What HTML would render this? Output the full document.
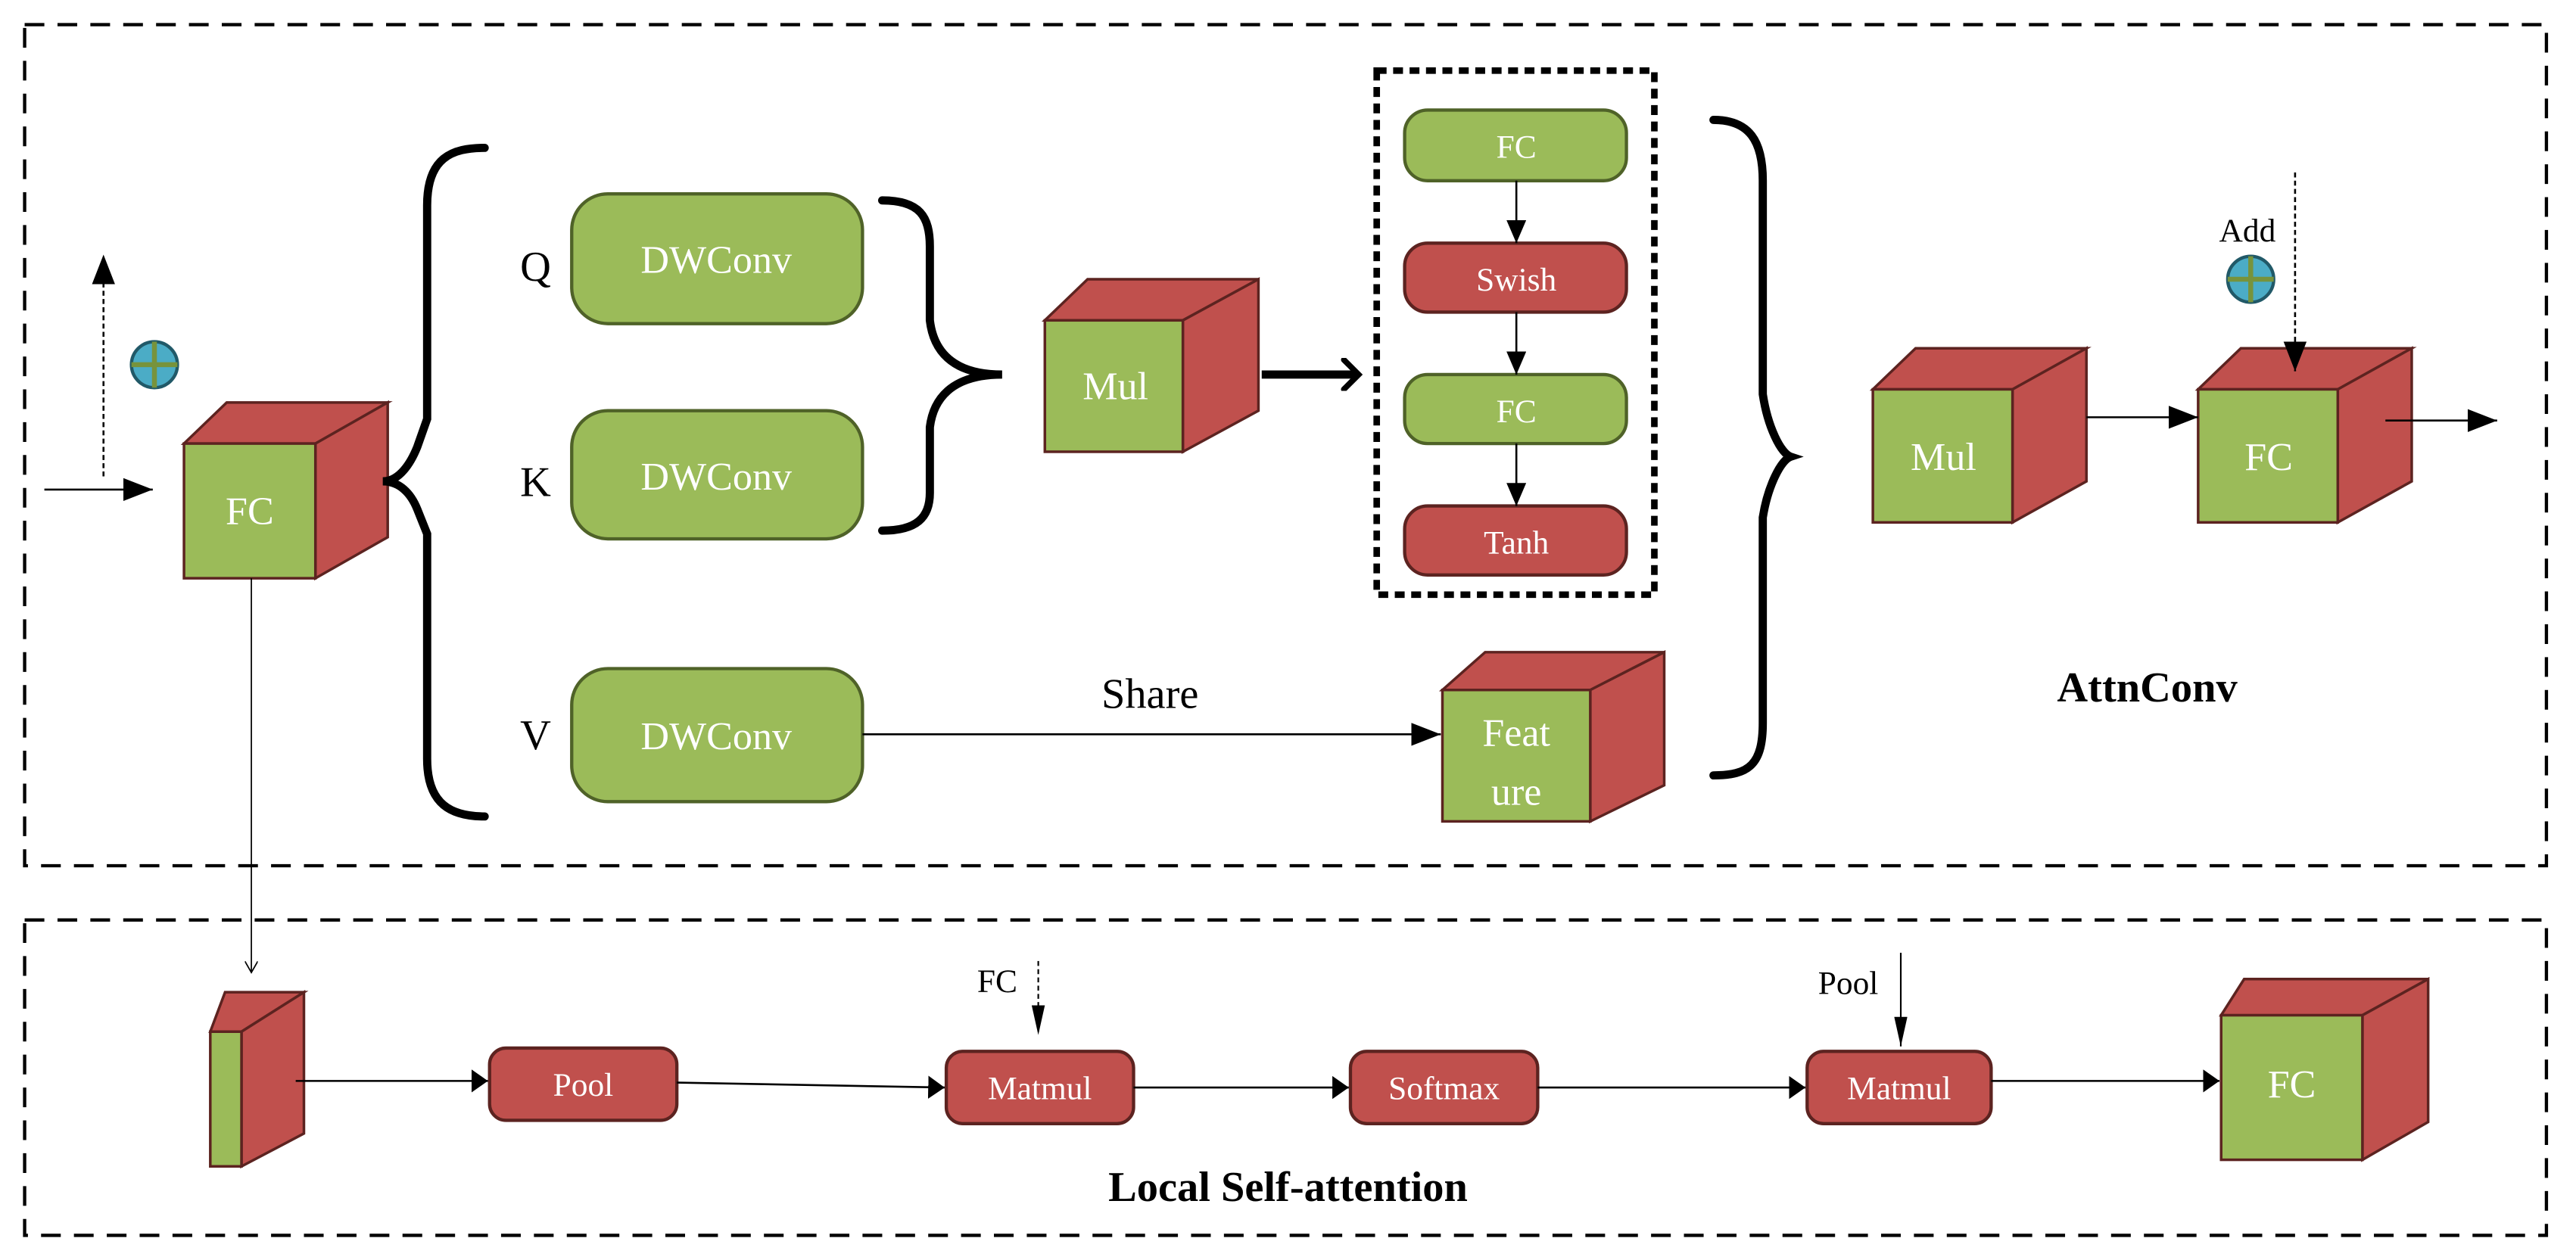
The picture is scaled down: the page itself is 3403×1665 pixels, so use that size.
<!DOCTYPE html>
<html><head><meta charset="utf-8"><style>
html,body{margin:0;padding:0;background:#fff;}
svg{display:block;}
text{font-family:"Liberation Serif",serif;}
</style></head><body>
<svg width="3403" height="1665" viewBox="0 0 1568 767" preserveAspectRatio="none" xmlns="http://www.w3.org/2000/svg">
<defs>
<marker id="ah" markerWidth="18" markerHeight="14" refX="18" refY="7" orient="auto" markerUnits="userSpaceOnUse"><path d="M0,0 L18,7 L0,14 Z" fill="#000"/></marker>
<marker id="am" markerWidth="14" markerHeight="12" refX="14" refY="6" orient="auto" markerUnits="userSpaceOnUse"><path d="M0,0 L14,6 L0,12 Z" fill="#000"/></marker>
<marker id="ahs" markerWidth="10" markerHeight="14" refX="10" refY="7" orient="auto" markerUnits="userSpaceOnUse"><path d="M0,0 L10,7 L0,14 Z" fill="#000"/></marker>
<marker id="av" markerWidth="18" markerHeight="8" refX="18" refY="4" orient="auto" markerUnits="userSpaceOnUse"><path d="M0,0 L18,4 L0,8 Z" fill="#000"/></marker>
<marker id="open" markerWidth="8" markerHeight="8" refX="7" refY="4" orient="auto" markerUnits="userSpaceOnUse"><path d="M0,0 L7,4 L0,8" fill="none" stroke="#000" stroke-width="0.8"/></marker>
<marker id="thick" markerWidth="14" markerHeight="20" refX="10" refY="10" orient="auto" markerUnits="userSpaceOnUse"><path d="M2,1 L11,10 L2,19" fill="none" stroke="#000" stroke-width="3.5" stroke-linecap="round"/></marker>
</defs>
<rect x="15" y="15" width="1535" height="512" fill="none" stroke="#000" stroke-width="2" stroke-dasharray="12,8"/>
<rect x="15" y="560" width="1535" height="192" fill="none" stroke="#000" stroke-width="2" stroke-dasharray="12,8"/>

<g stroke="#5c2320" stroke-width="1.6">
<polygon points="112,270 138,245 236,245 192,270" fill="#c0504d"/>
<polygon points="192,270 236,245 236,327 192,352" fill="#c0504d"/>
<rect x="112" y="270" width="80" height="82" fill="#9bbb59"/>
<polygon points="636,195 662,170 766,170 720,195" fill="#c0504d"/>
<polygon points="720,195 766,170 766,250 720,275" fill="#c0504d"/>
<rect x="636" y="195" width="84" height="80" fill="#9bbb59"/>
<polygon points="1140,237 1166,212 1270,212 1225,237" fill="#c0504d"/>
<polygon points="1225,237 1270,212 1270,293 1225,318" fill="#c0504d"/>
<rect x="1140" y="237" width="85" height="81" fill="#9bbb59"/>
<polygon points="1338,237 1364,212 1468,212 1423,237" fill="#c0504d"/>
<polygon points="1423,237 1468,212 1468,293 1423,318" fill="#c0504d"/>
<rect x="1338" y="237" width="85" height="81" fill="#9bbb59"/>
<polygon points="878,420 904,397 1013,397 968,420" fill="#c0504d"/>
<polygon points="968,420 1013,397 1013,478 968,500" fill="#c0504d"/>
<rect x="878" y="420" width="90" height="80" fill="#9bbb59"/>
<polygon points="128,628 137,604 185,604 147,628" fill="#c0504d"/>
<polygon points="147,628 185,604 185,690 147,710" fill="#c0504d"/>
<rect x="128" y="628" width="19" height="82" fill="#9bbb59"/>
<polygon points="1352,618 1366,596 1478,596 1438,618" fill="#c0504d"/>
<polygon points="1438,618 1478,596 1478,683 1438,706" fill="#c0504d"/>
<rect x="1352" y="618" width="86" height="88" fill="#9bbb59"/>
</g>

<g fill="#9bbb59" stroke="#4f6228" stroke-width="2">
<rect x="348" y="118" width="177" height="79" rx="22"/>
<rect x="348" y="250" width="177" height="78" rx="22"/>
<rect x="348" y="407" width="177" height="81" rx="22"/>
<rect x="855" y="67" width="135" height="43" rx="14"/>
<rect x="855" y="228" width="135" height="42" rx="14"/>
</g>
<g fill="#c0504d" stroke="#5c2320" stroke-width="2">
<rect x="855" y="148" width="135" height="42" rx="14"/>
<rect x="855" y="308" width="135" height="42" rx="14"/>
<rect x="298" y="638" width="114" height="44" rx="10"/>
<rect x="576" y="640" width="114" height="44" rx="10"/>
<rect x="822" y="640" width="114" height="44" rx="10"/>
<rect x="1100" y="640" width="112" height="44" rx="10"/>
</g>
<rect x="838" y="43" width="169" height="319" fill="none" stroke="#000" stroke-width="4" stroke-dasharray="6,4"/>

<g fill="none" stroke="#000" stroke-width="5" stroke-linecap="round">
<path d="M295,90 C275,90 260,96 260,125 L260,255 L254,272 C250,282 243,293 233,293 C243,293 250,300 254,310 L260,325 L260,462 C260,490 275,497 295,497"/>
<path d="M537,122 C560,122 566,132 566,150 L566,195 C568,212 578,228 610,228 C578,228 568,244 566,260 L566,300 C566,315 558,323 537,323"/>
<path d="M1043,73 C1065,73 1073,86 1073,110 L1073,240 C1076,260 1084,276 1090,278 C1084,280 1076,296 1073,315 L1073,440 C1073,465 1065,472 1043,472"/>
</g>
<line x1="768" y1="228" x2="826" y2="228" stroke="#000" stroke-width="5" marker-end="url(#thick)"/>

<g stroke="#000" stroke-width="1.2" fill="none">
<line x1="27" y1="298" x2="93" y2="298" marker-end="url(#ah)"/>
<line x1="63" y1="290" x2="63" y2="155" stroke-dasharray="3,2" marker-end="url(#ah)"/>
<line x1="923" y1="110" x2="923" y2="148" marker-end="url(#am)"/>
<line x1="923" y1="190" x2="923" y2="228" marker-end="url(#am)"/>
<line x1="923" y1="270" x2="923" y2="308" marker-end="url(#am)"/>
<line x1="1270" y1="254" x2="1338" y2="254" marker-end="url(#ah)"/>
<line x1="1397" y1="105" x2="1397" y2="226" stroke-dasharray="3,2" marker-end="url(#ah)"/>
<line x1="1452" y1="256" x2="1520" y2="256" marker-end="url(#ah)"/>
<line x1="525" y1="447" x2="877" y2="447" marker-end="url(#ah)"/>
<line x1="153" y1="352" x2="153" y2="592" stroke-width="0.8" marker-end="url(#open)"/>
<line x1="180" y1="658" x2="297" y2="658" marker-end="url(#ahs)"/>
<line x1="412" y1="659" x2="575" y2="662" marker-end="url(#ahs)"/>
<line x1="690" y1="662" x2="821" y2="662" marker-end="url(#ahs)"/>
<line x1="936" y1="662" x2="1099" y2="662" marker-end="url(#ahs)"/>
<line x1="1212" y1="658" x2="1351" y2="658" marker-end="url(#ahs)"/>
<line x1="632" y1="585" x2="632" y2="630" stroke-dasharray="3,2" stroke-width="1" marker-end="url(#av)"/>
<line x1="1157" y1="580" x2="1157" y2="637" stroke-width="1" marker-end="url(#av)"/>
</g>

<g>
<circle cx="94" cy="222" r="14" fill="#4bacc6" stroke="#215968" stroke-width="2"/>
<line x1="80" y1="222" x2="108" y2="222" stroke="#77933c" stroke-width="3"/>
<line x1="94" y1="208" x2="94" y2="236" stroke="#77933c" stroke-width="3"/>
<circle cx="1370" cy="170" r="14" fill="#4bacc6" stroke="#215968" stroke-width="2"/>
<line x1="1356" y1="170" x2="1384" y2="170" stroke="#77933c" stroke-width="3"/>
<line x1="1370" y1="156" x2="1370" y2="184" stroke="#77933c" stroke-width="3"/>
</g>

<g fill="#fff" text-anchor="middle" font-size="24">
<text x="152" y="319">FC</text>
<text x="436" y="166">DWConv</text>
<text x="436" y="298">DWConv</text>
<text x="436" y="456">DWConv</text>
<text x="679" y="243">Mul</text>
<text x="1183" y="286">Mul</text>
<text x="1381" y="286">FC</text>
<text x="923" y="454">Feat</text>
<text x="923" y="490">ure</text>
<text x="1395" y="668">FC</text>
</g>
<g fill="#fff" text-anchor="middle" font-size="20">
<text x="923" y="96">FC</text>
<text x="923" y="177">Swish</text>
<text x="923" y="257">FC</text>
<text x="923" y="337">Tanh</text>
<text x="355" y="667">Pool</text>
<text x="633" y="669">Matmul</text>
<text x="879" y="669">Softmax</text>
<text x="1156" y="669">Matmul</text>
</g>
<g fill="#000" font-size="26" text-anchor="middle">
<text x="326" y="171">Q</text>
<text x="326" y="302">K</text>
<text x="326" y="456">V</text>
<text x="700" y="431">Share</text>
</g>
<g fill="#000" font-size="20" text-anchor="middle">
<text x="1368" y="147">Add</text>
<text x="607" y="604">FC</text>
<text x="1125" y="605">Pool</text>
</g>
<g fill="#000" font-size="26" font-weight="bold" text-anchor="middle">
<text x="1307" y="427">AttnConv</text>
<text x="784" y="731">Local Self-attention</text>
</g>
</svg>
</body></html>
